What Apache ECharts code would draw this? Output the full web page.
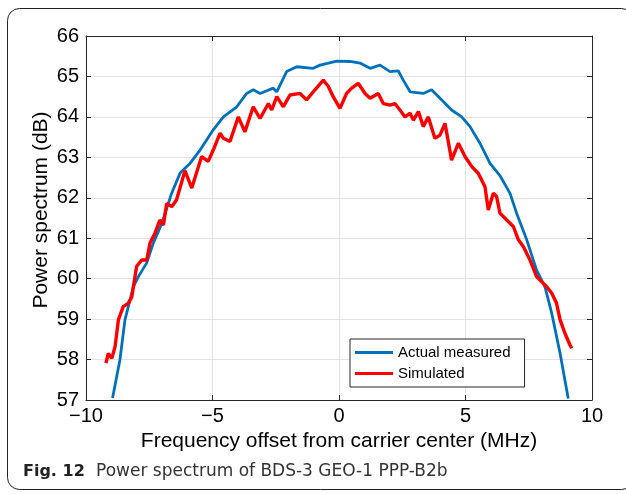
<!DOCTYPE html>
<html>
<head>
<meta charset="utf-8">
<script src="https://cdn.jsdelivr.net/npm/echarts@6/dist/echarts.min.js"></script>
<style>
  html, body { margin: 0; padding: 0; background: #fff; }
  #main { width: 626px; height: 494px; }
</style>
</head>
<body>
<div id="main"></div>
<script>
// Actual measured (blue) - [MHz, dB]
var measuredX = [-8.95, -8.66, -8.46, -8.13, -7.93, -7.6, -7.34, -7.0, -6.61, -6.28, -6.15, -5.89, -5.49,
  -4.97, -4.57, -4.04, -3.65, -3.39, -3.12, -2.6, -2.46, -2.2, -2.07, -1.67, -1.02, -0.75, -0.09, 0.43,
  0.83, 1.23, 1.62, 2.02, 2.34, 2.54, 2.81, 3.33, 3.66, 4.12, 4.45, 4.85, 5.18, 5.57, 5.97, 6.36, 6.76,
  7.02, 7.42, 7.81, 8.14, 8.41, 8.74, 9.06];
var measuredY = [57.05, 57.99, 58.98, 59.8, 60.05, 60.39, 60.88, 61.37, 62.12, 62.61, 62.69, 62.85, 63.18,
  63.68, 64.0, 64.25, 64.58, 64.67, 64.58, 64.71, 64.62, 64.95, 65.12, 65.24, 65.2, 65.28, 65.38, 65.37,
  65.33, 65.2, 65.28, 65.12, 65.14, 64.91, 64.62, 64.58, 64.67, 64.38, 64.17, 64.0, 63.76, 63.35, 62.85,
  62.55, 62.11, 61.62, 60.96, 60.21, 59.8, 59.14, 58.15, 57.04];

// Simulated (red)
var simulatedX = [-9.21, -9.12, -8.98, -8.85, -8.72, -8.53, -8.33, -8.19, -8.0, -7.8, -7.6, -7.47, -7.27,
  -7.08, -6.94, -6.81, -6.61, -6.42, -6.09, -5.82, -5.43, -5.17, -4.97, -4.7, -4.57, -4.31, -3.98, -3.72,
  -3.39, -3.12, -2.79, -2.66, -2.46, -2.2, -1.94, -1.54, -1.28, -0.95, -0.62, -0.42, -0.23, 0.04, 0.3,
  0.5, 0.76, 1.03, 1.23, 1.55, 1.75, 2.02, 2.21, 2.41, 2.61, 2.81, 2.94, 3.14, 3.33, 3.53, 3.79, 3.99,
  4.19, 4.45, 4.72, 4.98, 5.25, 5.51, 5.77, 5.9, 6.1, 6.23, 6.36, 6.63, 6.89, 7.09, 7.29, 7.55, 7.81,
  8.21, 8.41, 8.6, 8.74, 8.93, 9.13, 9.2];
var simulatedY = [57.91, 58.15, 58.03, 58.32, 58.98, 59.31, 59.39, 59.55, 60.3, 60.46, 60.46, 60.88, 61.13,
  61.45, 61.33, 61.86, 61.78, 61.95, 62.67, 62.24, 63.02, 62.9, 63.18, 63.6, 63.47, 63.39, 64.0, 63.63,
  64.25, 63.96, 64.33, 64.17, 64.5, 64.25, 64.54, 64.58, 64.42, 64.67, 64.91, 64.75, 64.5, 64.21, 64.58,
  64.71, 64.83, 64.58, 64.46, 64.58, 64.33, 64.29, 64.33, 64.17, 64.0, 64.09, 63.92, 64.13, 63.76, 64.0,
  63.47, 63.55, 63.84, 62.93, 63.35, 63.02, 62.77, 62.6, 62.27, 61.7, 62.11, 62.03, 61.62, 61.45, 61.29,
  60.96, 60.79, 60.46, 60.05, 59.8, 59.64, 59.39, 58.98, 58.65, 58.36, 58.28];

var xTicks = [-10, -5, 0, 5, 10];
var seriesNames = ['Actual measured', 'Simulated'];

function pairs(xs, ys) {
  var out = [];
  for (var i = 0; i < xs.length; i++) {
    out.push([xs[i], ys[i]]);
  }
  return out;
}

var axisColor = '#262626';
var font = '"Liberation Sans", Arial, sans-serif';
var capFont = '"DejaVu Sans", "Noto Sans", sans-serif';

var chart = echarts.init(document.getElementById('main'), null, { renderer: 'canvas' });

var option = {
  animation: false,
  backgroundColor: '#fff',
  color: ['#0072BD', '#FF0000'],
  grid: {
    left: 86,
    top: 36,
    width: 506,
    height: 364,
    outerBoundsMode: 'none'
  },
  legend: {
    data: seriesNames,
    orient: 'vertical',
    left: 350,
    top: 339,
    padding: [6, 14, 6, 5],
    itemGap: 6,
    itemWidth: 38,
    itemHeight: 3,
    itemTextGap: 5,
    icon: 'rect',
    backgroundColor: '#fff',
    borderColor: axisColor,
    borderWidth: 1,
    borderRadius: 0,
    textStyle: { fontFamily: font, fontSize: 15, color: '#000' }
  },
  xAxis: [
    {
      type: 'value',
      min: -10,
      max: 10,
      interval: 5,
      position: 'bottom',
      name: 'Frequency offset from carrier center (MHz)',
      nameLocation: 'middle',
      nameGap: 27,
      nameTextStyle: { fontFamily: font, fontSize: 21, color: '#000' },
      axisLine: { show: true, onZero: false, lineStyle: { color: axisColor, width: 1 } },
      axisTick: { show: true, inside: true, length: 5, lineStyle: { color: axisColor } },
      axisLabel: {
        fontFamily: font, fontSize: 20, color: '#000', margin: 6,
        formatter: function (v) {
          if (xTicks.indexOf(v) < 0) return '';
          return v < 0 ? '\u2212' + Math.abs(v) : String(v);
        }
      },
      splitLine: { show: true, lineStyle: { color: '#e3e3e3', width: 1 } }
    },
    {
      type: 'value',
      min: -10,
      max: 10,
      interval: 5,
      position: 'top',
      axisLine: { show: true, onZero: false, lineStyle: { color: axisColor, width: 1 } },
      axisTick: { show: true, inside: true, length: 5, lineStyle: { color: axisColor } },
      axisLabel: { show: false },
      splitLine: { show: false }
    }
  ],
  yAxis: [
    {
      type: 'value',
      min: 57,
      max: 66,
      interval: 1,
      position: 'left',
      axisLine: { show: true, onZero: false, lineStyle: { color: axisColor, width: 1 } },
      axisTick: { show: true, inside: true, length: 5, lineStyle: { color: axisColor } },
      axisLabel: { fontFamily: font, fontSize: 20, color: '#000', margin: 7 },
      splitLine: { show: true, lineStyle: { color: '#e3e3e3', width: 1 } }
    },
    {
      type: 'value',
      min: 57,
      max: 66,
      interval: 1,
      position: 'right',
      axisLine: { show: true, onZero: false, lineStyle: { color: axisColor, width: 1 } },
      axisTick: { show: true, inside: true, length: 5, lineStyle: { color: axisColor } },
      axisLabel: { show: false },
      splitLine: { show: false }
    }
  ],
  series: [
    {
      name: seriesNames[0],
      type: 'line',
      data: pairs(measuredX, measuredY),
      showSymbol: false,
      clip: true,
      lineStyle: { width: 2.8, color: '#0072BD' },
      z: 3
    },
    {
      name: seriesNames[1],
      type: 'line',
      data: pairs(simulatedX, simulatedY),
      showSymbol: false,
      clip: true,
      lineStyle: { width: 3.4, color: '#FF0000' },
      z: 4
    }
  ],
  graphic: [
    {
      // figure frame
      type: 'rect',
      shape: { x: 7.5, y: 8.5, width: 626, height: 481, r: 12 },
      style: { fill: 'none', stroke: '#222', lineWidth: 1 },
      silent: true,
      z: -1
    },
    {
      // y axis title, a bit above the plot centre like the original
      type: 'text',
      x: 41,
      y: 210,
      rotation: Math.PI / 2,
      style: {
        text: 'Power spectrum (dB)',
        font: '21px ' + font,
        fill: '#000',
        align: 'center',
        verticalAlign: 'middle'
      }
    },
    {
      type: 'text',
      x: 23,
      y: 472,
      style: {
        text: 'Fig. 12',
        font: 'bold 16px ' + capFont,
        fill: '#222',
        verticalAlign: 'middle'
      }
    },
    {
      type: 'text',
      x: 96,
      y: 472,
      style: {
        text: 'Power spectrum of BDS-3 GEO-1 PPP-B2b',
        font: '17px ' + capFont,
        fill: '#333',
        verticalAlign: 'middle'
      }
    }
  ]
};

chart.setOption(option);
</script>
</body>
</html>
